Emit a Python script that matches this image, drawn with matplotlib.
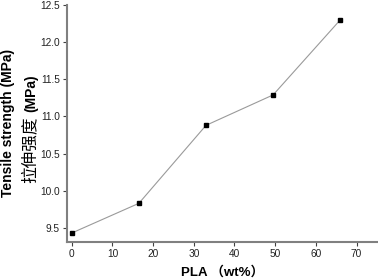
import matplotlib
matplotlib.use("Agg")
import matplotlib.pyplot as plt

pla = [0, 16.5, 33, 49.5, 66]
strength = [9.43, 9.83, 10.88, 11.29, 12.30]
xticks = [0, 10, 20, 30, 40, 50, 60, 70]
yticks = [9.5, 10.0, 10.5, 11.0, 11.5, 12.0, 12.5]

plt.rcParams['font.family'] = ['Liberation Sans', 'Noto Sans CJK SC', 'DejaVu Sans']

fig = plt.figure(figsize=(3.78, 2.8), dpi=100)
ax = fig.add_axes([0.177, 0.136, 0.82, 0.846])

ax.plot(pla, strength, color='#9a9a9a', lw=0.8, marker='s', ms=3,
        mfc='black', mec='black', zorder=3)

ax.set_xlim(-1.2, 75)
ax.set_ylim(9.31, 12.5)
ax.set_xticks(xticks)
ax.set_yticks(yticks)
ax.set_yticklabels(['%.1f' % v for v in yticks])

for s in ['top', 'right']:
    ax.spines[s].set_visible(False)
for s in ['left', 'bottom']:
    ax.spines[s].set_color('#808080')
    ax.spines[s].set_linewidth(1.5)
ax.tick_params(direction='out', length=3, width=0.8, color='#404040',
               labelsize=7.3, labelcolor='#222222', pad=2)

ax.set_xlabel('PLA （wt%）', fontsize=9.5, fontweight='bold', labelpad=5)

fig.text(0.022, 0.56, 'Tensile strength (MPa)', rotation=90, fontsize=10,
         fontweight='bold', ha='center', va='center')
# Chinese part in normal weight, unit in bold
fig.text(0.079, 0.346, '拉伸强度', rotation=90, fontsize=12,
         ha='center', va='bottom', family=['Noto Sans CJK SC', 'DejaVu Sans'])
fig.text(0.082, 0.6, '(MPa)', rotation=90, fontsize=10,
         fontweight='bold', ha='center', va='bottom')

fig.savefig('out.png', dpi=100)
